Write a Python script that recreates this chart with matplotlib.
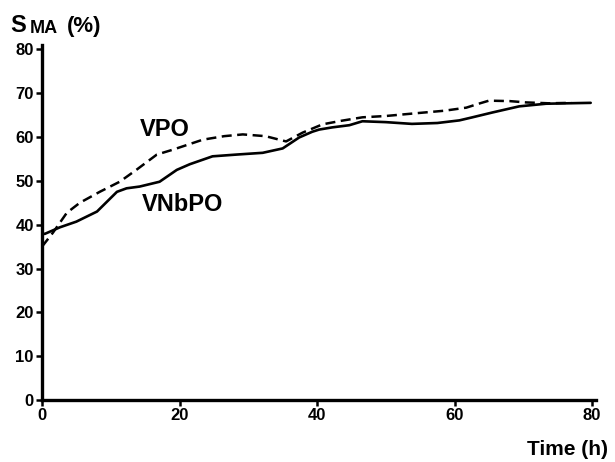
import matplotlib
matplotlib.use("Agg")
import matplotlib.pyplot as plt

plt.rcParams['font.family'] = ['Liberation Sans', 'DejaVu Sans']

# VNbPO (solid)
t_vnbpo = [0, 0.4, 2.6, 5.0, 8.0, 10.9, 12.3, 14.2, 17.1, 19.6, 21.5, 24.8, 28.3, 32.1,
           35.0, 37.4, 39.3, 40.3, 42.2, 44.7, 46.6, 50.0, 53.8, 57.5, 60.7, 62.6, 65.5,
           69.4, 73.3, 76.5, 79.8]
s_vnbpo = [38.0, 37.9, 39.4, 40.7, 43.0, 47.5, 48.3, 48.7, 49.8, 52.5, 53.8, 55.6, 56.0, 56.4,
           57.4, 59.9, 61.2, 61.7, 62.2, 62.7, 63.6, 63.4, 63.0, 63.2, 63.8, 64.5, 65.6,
           67.0, 67.6, 67.7, 67.8]

# VPO (dashed)
t_vpo = [0, 1.6, 3.6, 5.5, 8.4, 11.3, 13.8, 16.7, 19.0, 23.4, 26.5, 29.2, 32.5, 35.5,
         37.9, 40.8, 43.5, 46.6, 50.0, 54.9, 58.5, 61.7, 63.5, 65.0, 68.0, 70.4, 73.7, 77.0]
s_vpo = [35.0, 38.2, 42.7, 45.0, 47.5, 49.8, 52.6, 56.0, 57.1, 59.4, 60.2, 60.6, 60.2, 59.0,
         61.0, 62.9, 63.7, 64.5, 64.8, 65.5, 66.0, 66.7, 67.6, 68.3, 68.2, 67.9, 67.7, 67.8]

x_ticks = [0, 20, 40, 60, 80]
y_ticks = [0, 10, 20, 30, 40, 50, 60, 70, 80]

fig = plt.figure(figsize=(6.15, 4.62), dpi=100)
ax = fig.add_axes([0.0683, 0.1342, 0.9, 0.7684])

ax.plot(t_vnbpo, s_vnbpo, color='black', lw=1.9, solid_capstyle='round',
        solid_joinstyle='round')
ax.plot(t_vpo, s_vpo, color='black', lw=1.8, dashes=(4, 2.2))

ax.set_xlim(0, 80.5)
ax.set_ylim(0, 81)
ax.set_xticks(x_ticks)
ax.set_yticks(y_ticks)
for lab in ax.get_xticklabels() + ax.get_yticklabels():
    lab.set_fontweight('bold')
ax.tick_params(axis='both', labelsize=12, width=1.8, length=4, direction='out', pad=2)

for s in ['top', 'right']:
    ax.spines[s].set_visible(False)
for s in ['left', 'bottom']:
    ax.spines[s].set_linewidth(2.4)

ax.text(17.8, 61.7, 'VPO', fontsize=17, fontweight='bold', ha='center', va='center')
ax.text(20.5, 44.6, 'VNbPO', fontsize=17, fontweight='bold', ha='center', va='center')

fig.text(0.016, 0.931, 'S', fontsize=17, fontweight='bold', ha='left', va='baseline')
fig.text(0.049, 0.929, 'MA', fontsize=13, fontweight='bold', ha='left', va='baseline')
fig.text(0.109, 0.931, '(%)', fontsize=16, fontweight='bold', ha='left', va='baseline')

fig.text(0.988, 0.016, 'Time (h)', fontsize=15, fontweight='bold', ha='right', va='baseline')

fig.savefig('out.png', dpi=100)
